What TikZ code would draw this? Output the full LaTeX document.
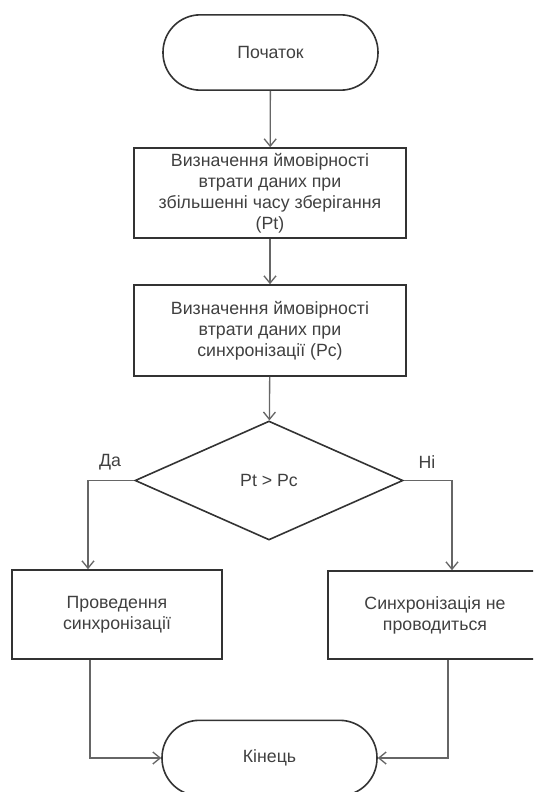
\documentclass[tikz,border=0pt]{standalone}
\usepackage{fontspec}
\setmainfont{Liberation Sans}
\usetikzlibrary{shapes.geometric,arrows.meta}

\begin{document}
\begin{tikzpicture}[x=0.75pt,y=-0.75pt,
  every node/.style={font=\fontsize{13.3}{15.75}\selectfont,text=black!75},
  terminal/.style={draw=black!80,line width=1.2pt,rectangle,rounded corners=28pt,
    minimum width=161.25pt,minimum height=56.5pt,inner sep=0pt},
  process/.style={draw=black!80,line width=1.2pt,rectangle,align=center,inner sep=0pt},
  decision/.style={draw=black!80,line width=1.2pt,diamond,inner sep=0pt,
    minimum width=201pt,minimum height=89.25pt},
  flow/.style={draw=black!60,line width=1pt,-{Straight Barb[length=5.5pt,width=9pt]}},
  link/.style={draw=black!60,line width=1pt}]
% The page
\useasboundingbox (0,0) rectangle (533,792);
\clip (0,0) rectangle (533,792);

% The shapes
\node[terminal] (start) at (270.5,52.5) {Початок};
\node[process,minimum width=204pt,minimum height=67.5pt] (pt) at (270,193)
  {Визначення ймовірності\\втрати даних при\\збільшенні часу зберігання\\(Pt)};
\node[process,minimum width=204pt,minimum height=68.25pt] (pc) at (270,330.5)
  {Визначення ймовірності\\втрати даних при\\синхронізації (Pc)};
\node[decision] (cmp) at (269,480.5) {Pt > Pc};
\node[process,minimum width=157.5pt,minimum height=66.75pt] (sync) at (117,614.5)
  {Проведення\\синхронізації};
\node[process,minimum width=160.5pt,minimum height=66pt] (nosync) at (435,615)
  {Синхронізація не\\проводиться};
\node[terminal] (stop) at (269.5,758) {Кінець};

% The turning points
\coordinate (yes) at (88,480.5);
\coordinate (no) at (452,480.5);
\coordinate (back) at (90,758);
\coordinate (fwd) at (448,758);

% The connectors
\draw[flow] (start) -- (pt);
\draw[flow] (pt) -- (pc);
\draw[flow] (pc) -- (cmp);
\draw[flow] (cmp.west) -- (yes) -- (yes |- sync.north);
\draw[flow] (cmp.east) -- (no) -- (no |- nosync.north);
\draw[flow] (back |- sync.south) -- (back) -- (stop.west);
\draw[flow] (fwd |- nosync.south) -- (fwd) -- (stop.east);

% The branch labels
\node (da) at (110,462) {Да};
\node (ni) at (427,462) {Ні};
\end{tikzpicture}
\end{document}
